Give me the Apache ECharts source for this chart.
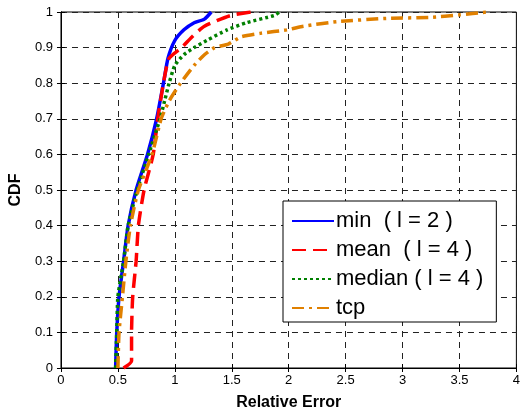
<!DOCTYPE html>
<html>
<head>
<meta charset="utf-8">
<script src="https://cdn.jsdelivr.net/npm/echarts@6/dist/echarts.min.js"></script>
<style>
    html, body { margin: 0; padding: 0; background: #fff; }
    #chart { width: 523px; height: 416px; }
</style>
</head>
<body>
<div id="chart"></div>
<script>
// CDF curves as [relative error, cdf]
const minData = [[0.48, 0], [0.49, 0.1], [0.51, 0.2], [0.55, 0.3], [0.59, 0.4], [0.66, 0.5], [0.76, 0.6], [0.84, 0.7], [0.90, 0.8], [0.94, 0.87], [1.0, 0.92], [1.08, 0.95], [1.17, 0.97], [1.26, 0.98], [1.32, 1.0]];
const meanData = [[0.55, 0], [0.62, 0.02], [0.62, 0.1], [0.63, 0.2], [0.66, 0.3], [0.68, 0.4], [0.73, 0.5], [0.81, 0.6], [0.85, 0.7], [0.90, 0.8], [0.95, 0.87], [1.06, 0.9], [1.15, 0.93], [1.26, 0.96], [1.49, 0.99], [1.67, 1.0]];
const medianData = [[0.48, 0], [0.49, 0.1], [0.50, 0.2], [0.55, 0.3], [0.59, 0.4], [0.67, 0.5], [0.77, 0.6], [0.87, 0.7], [0.91, 0.75], [0.95, 0.8], [1.0, 0.85], [1.08, 0.88], [1.17, 0.9], [1.28, 0.92], [1.46, 0.95], [1.63, 0.97], [1.87, 0.99], [1.92, 1.0]];
const tcpData = [[0.50, 0], [0.51, 0.1], [0.54, 0.2], [0.57, 0.3], [0.61, 0.4], [0.68, 0.5], [0.80, 0.6], [0.88, 0.7], [0.95, 0.75], [1.05, 0.8], [1.17, 0.85], [1.26, 0.88], [1.35, 0.9], [1.47, 0.91], [1.58, 0.93], [1.75, 0.94], [1.99, 0.95], [2.13, 0.96], [2.43, 0.973], [2.86, 0.982], [3.24, 0.985], [3.5, 0.992], [3.74, 1.0]];

const seriesNames = ['min  ( l = 2 )', 'mean  ( l = 4 )', 'median ( l = 4 )', 'tcp'];

const chart = echarts.init(document.getElementById('chart'));

const gridDash = { color: '#222', width: 1, type: [6, 5] };
const font = 'Liberation Sans, Arial, sans-serif';

const mkLine = (name, data, color, dash) => ({
    name: name,
    type: 'line',
    data: data,
    symbol: 'none',
    smooth: 0.2,
    lineStyle: { color: color, width: 3.5, type: dash },
    itemStyle: { color: color },
    z: 3
});

chart.setOption({
    animation: false,
    grid: { left: 59, right: 5, top: 12, bottom: 43, show: true, borderColor: '#000', borderWidth: 1 },
    xAxis: [
        {
            type: 'value', min: 0, max: 4, interval: 0.5,
            name: 'Relative Error', nameLocation: 'middle', nameGap: 27,
            nameTextStyle: { fontFamily: font, fontWeight: 'bold', fontSize: 16, color: '#000' },
            axisLine: { lineStyle: { color: '#000' } },
            axisTick: { inside: true, length: 4, lineStyle: { color: '#000' } },
            axisLabel: { fontFamily: font, fontSize: 13, color: '#000', margin: 6 },
            splitLine: { show: true, lineStyle: gridDash }
        },
        {
            type: 'value', min: 0, max: 4, interval: 0.5, position: 'top',
            axisLine: { lineStyle: { color: '#000' } },
            axisTick: { inside: true, length: 4, lineStyle: { color: '#000' } },
            axisLabel: { show: false }, splitLine: { show: false }
        }
    ],
    yAxis: [
        {
            type: 'value', min: 0, max: 1, interval: 0.1,
            name: 'CDF', nameLocation: 'middle', nameGap: 36,
            nameTextStyle: { fontFamily: font, fontWeight: 'bold', fontSize: 16, color: '#000' },
            axisLine: { show: true, lineStyle: { color: '#000' } },
            axisTick: { show: true, inside: true, length: 4, lineStyle: { color: '#000' } },
            axisLabel: { fontFamily: font, fontSize: 13, color: '#000', margin: 8 },
            splitLine: { show: true, lineStyle: gridDash }
        },
        {
            type: 'value', min: 0, max: 1, interval: 0.1, position: 'right',
            axisLine: { show: true, lineStyle: { color: '#000' } },
            axisTick: { show: true, inside: true, length: 4, lineStyle: { color: '#000' } },
            axisLabel: { show: false }, splitLine: { show: false }
        }
    ],
    legend: {
        orient: 'vertical',
        left: 283, top: 201,
        padding: [9, 13, 3, 8],
        itemGap: 7,
        itemWidth: 42, itemHeight: 14,
        itemStyle: { color: 'rgba(0,0,0,0)', borderWidth: 0, opacity: 0 },
        backgroundColor: '#fff',
        borderColor: '#000', borderWidth: 1,
        textStyle: { fontFamily: font, fontSize: 22, color: '#000', padding: [0, 0, 0, -3] },
        data: seriesNames
    },
    series: [
        mkLine(seriesNames[0], minData, '#0000ff', 'solid'),
        mkLine(seriesNames[1], meanData, '#ff0000', [14, 7]),
        mkLine(seriesNames[2], medianData, '#008000', [3, 3]),
        mkLine(seriesNames[3], tcpData, '#e08000', [12, 5, 3, 5])
    ]
});
</script>
</body>
</html>
